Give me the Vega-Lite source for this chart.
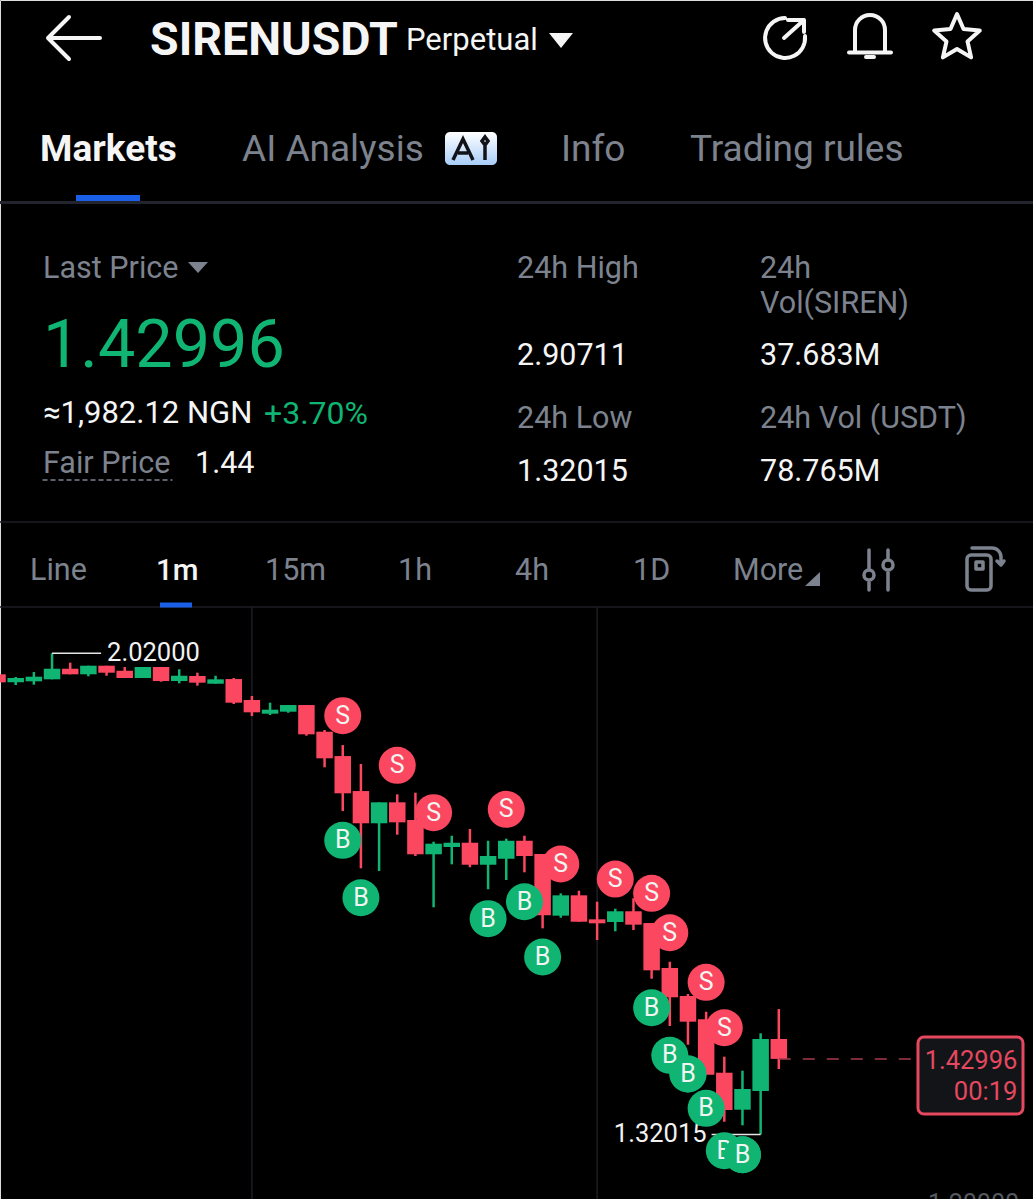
{
  "$schema": "https://vega.github.io/schema/vega-lite/v6.json",
  "width": 1033,
  "height": 1199,
  "padding": 0,
  "autosize": "none",
  "background": "#000000",
  "datasets": {
    "candles": [
      {"i":-1,"open":1.9894,"high":1.9894,"low":1.9777,"close":1.9777},
      {"i":0,"open":1.9777,"high":1.9855,"low":1.9738,"close":1.984},
      {"i":1,"open":1.9792,"high":1.9927,"low":1.9743,"close":1.9859},
      {"i":2,"open":1.9821,"high":2.02,"low":1.9821,"close":1.9975},
      {"i":3,"open":1.9975,"high":2.0063,"low":1.9894,"close":1.9894},
      {"i":4,"open":1.9894,"high":2.0019,"low":1.9865,"close":2.0019},
      {"i":5,"open":2.0019,"high":2.0019,"low":1.9873,"close":1.9917},
      {"i":6,"open":1.9946,"high":2.0,"low":1.984,"close":1.984},
      {"i":7,"open":1.984,"high":2.0,"low":1.984,"close":2.0},
      {"i":8,"open":2.0,"high":2.0,"low":1.9786,"close":1.9796},
      {"i":9,"open":1.9796,"high":1.9967,"low":1.9763,"close":1.9873},
      {"i":10,"open":1.9869,"high":1.9917,"low":1.9728,"close":1.9772},
      {"i":11,"open":1.9757,"high":1.9873,"low":1.9757,"close":1.9821},
      {"i":12,"open":1.9825,"high":1.984,"low":1.9462,"close":1.9481},
      {"i":13,"open":1.952,"high":1.9578,"low":1.9287,"close":1.9341},
      {"i":14,"open":1.9321,"high":1.9481,"low":1.9302,"close":1.9379},
      {"i":15,"open":1.935,"high":1.9447,"low":1.9335,"close":1.9447},
      {"i":16,"open":1.9447,"high":1.9447,"low":1.9001,"close":1.9021},
      {"i":17,"open":1.9059,"high":1.9084,"low":1.8541,"close":1.8672},
      {"i":18,"open":1.8705,"high":1.8865,"low":1.7905,"close":1.8163},
      {"i":19,"open":1.8196,"high":1.8589,"low":1.7072,"close":1.7727},
      {"i":20,"open":1.7727,"high":1.8032,"low":1.7033,"close":1.8032},
      {"i":21,"open":1.8032,"high":1.8148,"low":1.7561,"close":1.7741},
      {"i":22,"open":1.7775,"high":1.8172,"low":1.7251,"close":1.7276},
      {"i":23,"open":1.7276,"high":1.7459,"low":1.6505,"close":1.743},
      {"i":24,"open":1.7382,"high":1.7546,"low":1.713,"close":1.7444},
      {"i":25,"open":1.7444,"high":1.7644,"low":1.7087,"close":1.7124},
      {"i":26,"open":1.7124,"high":1.7473,"low":1.6767,"close":1.7251},
      {"i":27,"open":1.7212,"high":1.7503,"low":1.6902,"close":1.7473},
      {"i":28,"open":1.7473,"high":1.7546,"low":1.7014,"close":1.7251},
      {"i":29,"open":1.728,"high":1.728,"low":1.6199,"close":1.6388},
      {"i":30,"open":1.6383,"high":1.6708,"low":1.6353,"close":1.6679},
      {"i":31,"open":1.6679,"high":1.6746,"low":1.6295,"close":1.6295},
      {"i":32,"open":1.633,"high":1.6586,"low":1.6029,"close":1.6272},
      {"i":33,"open":1.6291,"high":1.6484,"low":1.6156,"close":1.6447},
      {"i":34,"open":1.6447,"high":1.6636,"low":1.6175,"close":1.6252},
      {"i":35,"open":1.6276,"high":1.6276,"low":1.5466,"close":1.5588},
      {"i":36,"open":1.5622,"high":1.5713,"low":1.4778,"close":1.5196},
      {"i":37,"open":1.5215,"high":1.5244,"low":1.4506,"close":1.4841},
      {"i":38,"open":1.4876,"high":1.4986,"low":1.407,"close":1.407},
      {"i":39,"open":1.4099,"high":1.4332,"low":1.3386,"close":1.3556},
      {"i":40,"open":1.3561,"high":1.4128,"low":1.3334,"close":1.3862},
      {"i":41,"open":1.3833,"high":1.4672,"low":1.32015,"close":1.4589},
      {"i":42,"open":1.4589,"high":1.5025,"low":1.4153,"close":1.42996}
    ],
    "signals": [
      {"i":18,"price":1.9292,"side":"S"},
      {"i":21,"price":1.857,"side":"S"},
      {"i":23,"price":1.7881,"side":"S"},
      {"i":27,"price":1.793,"side":"S"},
      {"i":30,"price":1.7135,"side":"S"},
      {"i":33,"price":1.6916,"side":"S"},
      {"i":35,"price":1.6708,"side":"S"},
      {"i":36,"price":1.6135,"side":"S"},
      {"i":38,"price":1.5414,"side":"S"},
      {"i":39,"price":1.4753,"side":"S"},
      {"i":18,"price":1.7479,"side":"B"},
      {"i":19,"price":1.6644,"side":"B"},
      {"i":26,"price":1.6339,"side":"B"},
      {"i":28,"price":1.6586,"side":"B"},
      {"i":29,"price":1.5782,"side":"B"},
      {"i":35,"price":1.5044,"side":"B"},
      {"i":36,"price":1.4352,"side":"B"},
      {"i":37,"price":1.408,"side":"B"},
      {"i":38,"price":1.3581,"side":"B"},
      {"i":39,"price":1.2964,"side":"B"},
      {"i":40,"price":1.2906,"side":"B"}
    ],
    "sessions": [
      {"i":13,"top":2.0873,"bottom":1.2262},
      {"i":32,"top":2.0873,"bottom":1.2262}
    ],
    "extremes": [
      {"i":2,"end":4.7,"price":2.02,"label":"2.02000","kind":"high"},
      {"i":41,"end":38.3,"price":1.32015,"label":"1.32015","kind":"low"}
    ],
    "bottomTick": [{"i":55.22,"price":1.2,"label":"1.20000"}],
    "last": [
      {"i":42,"end":49.66,"price":1.42996,"tagStart":49.66,"tagEnd":55.44,"tagTop":1.4618,"tagBottom":1.3498,"tagText":55.13,"label":"1.42996","countdown":"00:19"}
    ],
    "ui": [
      {"label":"SIRENUSDT","col":1,"line":0,"group":"symbol"},
      {"label":"Perpetual","col":2,"line":0,"group":"contract"},
      {"label":"Markets","col":7,"line":1,"group":"activeTab"},
      {"label":"AI Analysis","col":9,"line":1,"group":"tab"},
      {"label":"Info","col":3,"line":1,"group":"tab"},
      {"label":"Trading rules","col":11,"line":1,"group":"tab"},
      {"label":"Last Price","col":12,"line":3,"group":"muted"},
      {"label":"1.42996","col":12,"line":5,"group":"price"},
      {"label":"≈1,982.12 NGN","col":12,"line":7,"group":"conversion"},
      {"label":"+3.70%","col":14,"line":7,"group":"change"},
      {"label":"Fair Price","col":12,"line":9,"group":"muted"},
      {"label":"1.44","col":15,"line":9,"group":"value"},
      {"label":"24h High","col":17,"line":3,"group":"muted"},
      {"label":"2.90711","col":17,"line":6,"group":"value"},
      {"label":"24h Low","col":17,"line":8,"group":"muted"},
      {"label":"1.32015","col":17,"line":10,"group":"value"},
      {"label":"24h","col":18,"line":3,"group":"muted"},
      {"label":"Vol(SIREN)","col":18,"line":4,"group":"muted"},
      {"label":"37.683M","col":18,"line":6,"group":"value"},
      {"label":"24h Vol (USDT)","col":18,"line":8,"group":"muted"},
      {"label":"78.765M","col":18,"line":10,"group":"value"},
      {"label":"Line","col":19,"line":12,"group":"muted"},
      {"label":"1m","col":20,"line":12,"group":"activeInterval"},
      {"label":"15m","col":22,"line":12,"group":"muted"},
      {"label":"1h","col":23,"line":12,"group":"muted"},
      {"label":"4h","col":24,"line":12,"group":"muted"},
      {"label":"1D","col":25,"line":12,"group":"muted"},
      {"label":"More","col":26,"line":12,"group":"muted"}
    ],
    "dividers": [
      {"col":30,"colEnd":31,"line":14,"group":"heavy"},
      {"col":30,"colEnd":31,"line":15,"group":"thin"},
      {"col":30,"colEnd":31,"line":16,"group":"thin"}
    ],
    "icons": [
      {"icon":"back","col":0,"line":0,"group":"white"},
      {"icon":"share","col":4,"line":0,"group":"white"},
      {"icon":"bell","col":5,"line":0,"group":"white"},
      {"icon":"star","col":6,"line":0,"group":"white"},
      {"icon":"sliders","col":28,"line":12,"group":"grey"},
      {"icon":"phone","col":29,"line":12,"group":"grey"}
    ],
    "fills": [
      {"icon":"perpCaret","col":3,"line":0,"group":"white"},
      {"icon":"lastCaret","col":13,"line":3,"group":"grey"},
      {"icon":"moreCaret","col":27,"line":12,"group":"grey"},
      {"icon":"marketsBar","col":8,"line":2,"group":"blue"},
      {"icon":"minuteBar","col":21,"line":13,"group":"blue"}
    ],
    "badge": [{"col":10,"line":1}],
    "fairUnderline": [{"col":16,"line":11}]
  },
  "resolve": {"scale": {"x": "independent", "y": "independent", "color": "independent"}},
  "layer": [
    {
      "encoding": {
        "x": {"field": "i", "type": "quantitative", "scale": {"domain": [-0.864, 55.99], "nice": false, "zero": false, "padding": 0}, "axis": null}
      },
      "layer": [
        {
          "data": {"name": "sessions"},
          "mark": {"type": "rule", "color": "#1c1e24", "strokeWidth": 1.5},
          "encoding": {
            "y": {"field": "top", "type": "quantitative", "scale": {"domain": [1.2262, 2.9702], "nice": false, "zero": false}, "axis": null},
            "y2": {"field": "bottom"}
          }
        },
        {
          "data": {"name": "candles"},
          "mark": {"type": "rule", "strokeWidth": 2.5},
          "encoding": {
            "y": {
              "field": "high", "type": "quantitative",
              "scale": {"domain": [1.2262, 2.9702], "nice": false, "zero": false},
              "axis": {
                "orient": "right", "values": [1.6, 2.0], "format": ".5f", "title": null,
                "grid": true, "gridColor": "#1c1e24", "gridWidth": 1.5,
                "domain": false, "ticks": false,
                "labelAlign": "right", "labelPadding": -14, "labelOffset": -15,
                "labelColor": "#55585e", "labelFont": "Roboto", "labelFontSize": 25,
                "labelBound": false, "labelFlush": false, "labelOverlap": false
              }
            },
            "y2": {"field": "low"},
            "color": {"condition": {"test": "datum.close >= datum.open", "value": "#10b573"}, "value": "#fb4760"}
          }
        },
        {
          "data": {"name": "bottomTick"},
          "mark": {"type": "text", "align": "right", "baseline": "middle", "dy": -13, "font": "Roboto", "fontSize": 25, "color": "#55585e"},
          "encoding": {
            "y": {"field": "price", "type": "quantitative", "scale": {"domain": [1.2262, 2.9702], "nice": false, "zero": false}, "axis": null},
            "text": {"field": "label"}
          }
        },
        {
          "data": {"name": "candles"},
          "mark": {"type": "bar", "size": 16.5},
          "encoding": {
            "y": {"field": "open", "type": "quantitative", "scale": {"domain": [1.2262, 2.9702], "nice": false, "zero": false}, "axis": null},
            "y2": {"field": "close"},
            "color": {"condition": {"test": "datum.close >= datum.open", "value": "#10b573"}, "value": "#fb4760"}
          }
        },
        {
          "data": {"name": "extremes"},
          "mark": {"type": "rule", "color": "#e6e6e6", "strokeWidth": 1.5},
          "encoding": {
            "x2": {"field": "end"},
            "y": {"field": "price", "type": "quantitative", "scale": {"domain": [1.2262, 2.9702], "nice": false, "zero": false}, "axis": null}
          }
        },
        {
          "data": {"name": "extremes"},
          "transform": [{"filter": "datum.kind == 'high'"}],
          "mark": {"type": "text", "align": "left", "baseline": "middle", "dx": 6, "font": "Roboto", "fontSize": 25.5, "color": "#f2f2f2"},
          "encoding": {
            "x": {"field": "end", "type": "quantitative", "scale": {"domain": [-0.864, 55.99], "nice": false, "zero": false, "padding": 0}, "axis": null},
            "y": {"field": "price", "type": "quantitative", "scale": {"domain": [1.2262, 2.9702], "nice": false, "zero": false}, "axis": null},
            "text": {"field": "label"}
          }
        },
        {
          "data": {"name": "extremes"},
          "transform": [{"filter": "datum.kind == 'low'"}],
          "mark": {"type": "text", "align": "right", "baseline": "middle", "dx": -5, "font": "Roboto", "fontSize": 25.5, "color": "#f2f2f2"},
          "encoding": {
            "x": {"field": "end", "type": "quantitative", "scale": {"domain": [-0.864, 55.99], "nice": false, "zero": false, "padding": 0}, "axis": null},
            "y": {"field": "price", "type": "quantitative", "scale": {"domain": [1.2262, 2.9702], "nice": false, "zero": false}, "axis": null},
            "text": {"field": "label"}
          }
        },
        {
          "data": {"name": "last"},
          "mark": {"type": "rule", "color": "#a83a4c", "strokeWidth": 1.5, "strokeDash": [12, 12]},
          "encoding": {
            "x2": {"field": "end"},
            "y": {"field": "price", "type": "quantitative", "scale": {"domain": [1.2262, 2.9702], "nice": false, "zero": false}, "axis": null}
          }
        },
        {
          "data": {"name": "last"},
          "mark": {"type": "rect", "fill": "#131418", "stroke": "#e5485f", "strokeWidth": 3, "cornerRadius": 6},
          "encoding": {
            "x": {"field": "tagStart", "type": "quantitative", "scale": {"domain": [-0.864, 55.99], "nice": false, "zero": false, "padding": 0}, "axis": null},
            "x2": {"field": "tagEnd"},
            "y": {"field": "tagTop", "type": "quantitative", "scale": {"domain": [1.2262, 2.9702], "nice": false, "zero": false}, "axis": null},
            "y2": {"field": "tagBottom"}
          }
        },
        {
          "data": {"name": "last"},
          "mark": {"type": "text", "align": "right", "baseline": "middle", "dy": 2, "font": "Roboto", "fontSize": 25.5, "color": "#e5485f"},
          "encoding": {
            "x": {"field": "tagText", "type": "quantitative", "scale": {"domain": [-0.864, 55.99], "nice": false, "zero": false, "padding": 0}, "axis": null},
            "y": {"field": "price", "type": "quantitative", "scale": {"domain": [1.2262, 2.9702], "nice": false, "zero": false}, "axis": null},
            "text": {"field": "label"}
          }
        },
        {
          "data": {"name": "last"},
          "mark": {"type": "text", "align": "right", "baseline": "middle", "dy": 33, "font": "Roboto", "fontSize": 25.5, "color": "#e5485f"},
          "encoding": {
            "x": {"field": "tagText", "type": "quantitative", "scale": {"domain": [-0.864, 55.99], "nice": false, "zero": false, "padding": 0}, "axis": null},
            "y": {"field": "price", "type": "quantitative", "scale": {"domain": [1.2262, 2.9702], "nice": false, "zero": false}, "axis": null},
            "text": {"field": "countdown"}
          }
        },
        {
          "data": {"name": "signals"},
          "mark": {"type": "circle", "size": 1369, "opacity": 1},
          "encoding": {
            "y": {"field": "price", "type": "quantitative", "scale": {"domain": [1.2262, 2.9702], "nice": false, "zero": false}, "axis": null},
            "color": {"field": "side", "type": "nominal", "scale": {"domain": ["S", "B"], "range": ["#fb4760", "#10b573"]}, "legend": null}
          }
        },
        {
          "data": {"name": "signals"},
          "mark": {"type": "text", "baseline": "middle", "font": "Roboto", "fontSize": 25, "color": "#f0f5f1"},
          "encoding": {
            "y": {"field": "price", "type": "quantitative", "scale": {"domain": [1.2262, 2.9702], "nice": false, "zero": false}, "axis": null},
            "text": {"field": "side"}
          }
        },
        {
          "data": {"name": "signals"},
          "transform": [{"filter": "datum.side == 'B' && (datum.i == 37 || datum.i == 40)"}],
          "mark": {"type": "circle", "size": 1369, "opacity": 1, "color": "#10b573"},
          "encoding": {
            "y": {"field": "price", "type": "quantitative", "scale": {"domain": [1.2262, 2.9702], "nice": false, "zero": false}, "axis": null}
          }
        },
        {
          "data": {"name": "signals"},
          "transform": [{"filter": "datum.side == 'B' && (datum.i == 37 || datum.i == 40)"}],
          "mark": {"type": "text", "baseline": "middle", "font": "Roboto", "fontSize": 25, "color": "#f0f5f1"},
          "encoding": {
            "y": {"field": "price", "type": "quantitative", "scale": {"domain": [1.2262, 2.9702], "nice": false, "zero": false}, "axis": null},
            "text": {"field": "side"}
          }
        }
      ]
    },
    {
      "encoding": {
        "x": {
          "field": "col", "type": "quantitative", "axis": null,
          "scale": {
            "domain": [0,1,2,3,4,5,6,7,8,9,10,11,12,13,14,15,16,17,18,19,20,21,22,23,24,25,26,27,28,29,30,31],
            "range": [74,150,406,561,785,870,957,40,108,242,471,690,43,198,264,195,107.5,517,760,30,156,176,265,398,515,633,733,813,876,984,0,1033],
            "nice": false, "zero": false
          }
        },
        "y": {
          "field": "line", "type": "quantitative", "axis": null,
          "scale": {
            "domain": [0,1,2,3,4,5,6,7,8,9,10,11,12,13,14,15,16],
            "range": [40,149,198,268,303,345,355,413,418,463,471,480,570,605,202.5,522,607],
            "nice": false, "zero": false
          }
        }
      },
      "resolve": {"scale": {"shape": "independent"}},
      "layer": [
        {
          "data": {"name": "dividers"},
          "transform": [{"filter": "datum.group == 'heavy'"}],
          "mark": {"type": "rule", "color": "#23252e", "strokeWidth": 3},
          "encoding": {"x2": {"field": "colEnd"}}
        },
        {
          "data": {"name": "dividers"},
          "transform": [{"filter": "datum.group == 'thin'"}],
          "mark": {"type": "rule", "color": "#1c1e24", "strokeWidth": 1.5},
          "encoding": {"x2": {"field": "colEnd"}}
        },
        {
          "data": {"name": "ui"},
          "transform": [{"filter": "datum.group == 'symbol'"}],
          "mark": {"type": "text", "align": "left", "baseline": "middle", "dy": 1, "font": "Roboto", "fontWeight": 700, "fontSize": 46.5, "color": "#f5f5f5"},
          "encoding": {"text": {"field": "label"}}
        },
        {
          "data": {"name": "ui"},
          "transform": [{"filter": "datum.group == 'contract'"}],
          "mark": {"type": "text", "align": "left", "baseline": "middle", "dy": 1, "font": "Roboto", "fontSize": 31, "color": "#f5f5f5"},
          "encoding": {"text": {"field": "label"}}
        },
        {
          "data": {"name": "ui"},
          "transform": [{"filter": "datum.group == 'activeTab'"}],
          "mark": {"type": "text", "align": "left", "baseline": "middle", "dy": 1, "font": "Roboto", "fontWeight": 700, "fontSize": 37, "color": "#f5f5f5"},
          "encoding": {"text": {"field": "label"}}
        },
        {
          "data": {"name": "ui"},
          "transform": [{"filter": "datum.group == 'tab'"}],
          "mark": {"type": "text", "align": "left", "baseline": "middle", "dy": 1, "font": "Roboto", "fontSize": 37, "color": "#7d838e"},
          "encoding": {"text": {"field": "label"}}
        },
        {
          "data": {"name": "ui"},
          "transform": [{"filter": "datum.group == 'muted'"}],
          "mark": {"type": "text", "align": "left", "baseline": "middle", "dy": 1, "font": "Roboto", "fontSize": 30.5, "color": "#7d838e"},
          "encoding": {"text": {"field": "label"}}
        },
        {
          "data": {"name": "ui"},
          "transform": [{"filter": "datum.group == 'value'"}],
          "mark": {"type": "text", "align": "left", "baseline": "middle", "dy": 1, "font": "Roboto", "fontSize": 30.5, "color": "#f5f5f5"},
          "encoding": {"text": {"field": "label"}}
        },
        {
          "data": {"name": "ui"},
          "transform": [{"filter": "datum.group == 'conversion'"}],
          "mark": {"type": "text", "align": "left", "baseline": "middle", "dy": 1, "font": "Roboto", "fontSize": 31, "color": "#f5f5f5"},
          "encoding": {"text": {"field": "label"}}
        },
        {
          "data": {"name": "ui"},
          "transform": [{"filter": "datum.group == 'activeInterval'"}],
          "mark": {"type": "text", "align": "left", "baseline": "middle", "dy": 1, "font": "Roboto", "fontWeight": 500, "fontSize": 29.5, "color": "#f5f5f5"},
          "encoding": {"text": {"field": "label"}}
        },
        {
          "data": {"name": "ui"},
          "transform": [{"filter": "datum.group == 'change'"}],
          "mark": {"type": "text", "align": "left", "baseline": "middle", "dy": 1, "font": "Roboto", "fontSize": 32, "color": "#10b573"},
          "encoding": {"text": {"field": "label"}}
        },
        {
          "data": {"name": "ui"},
          "transform": [{"filter": "datum.group == 'price'"}],
          "mark": {"type": "text", "align": "left", "baseline": "middle", "dy": 2, "font": "Roboto", "fontSize": 66.5, "color": "#10b573"},
          "encoding": {"text": {"field": "label"}}
        },
        {
          "data": {"name": "icons"},
          "transform": [{"filter": "datum.group == 'white'"}],
          "mark": {"type": "point", "filled": false, "size": 4, "opacity": 1, "stroke": "#f5f5f5", "strokeWidth": 4, "strokeCap": "round", "strokeJoin": "round"},
          "encoding": {
            "shape": {
              "field": "icon", "type": "nominal", "legend": null,
              "scale": {
                "domain": ["back", "share", "bell", "star"],
                "range": [
                  "M-26,-2H26M-5,-23L-26,-2L-5,19",
                  "M0,-22A20,20 0 1,0 20,-4M-1,-2L19,-20M3,-20H19V-8",
                  "M-15,12V-10A15,15 0 0,1 15,-10V12M-21,12.5H21M-4,17H4",
                  "M0,-26L6.5,-11L22.8,-9.4L10.5,1.4L14.1,17.4L0,9L-14.1,17.4L-10.5,1.4L-22.8,-9.4L-6.5,-11Z"
                ]
              }
            }
          }
        },
        {
          "data": {"name": "icons"},
          "transform": [{"filter": "datum.group == 'grey'"}],
          "mark": {"type": "point", "filled": false, "size": 4, "opacity": 1, "stroke": "#7d838e", "strokeWidth": 3.5, "strokeCap": "round", "strokeJoin": "round"},
          "encoding": {
            "shape": {
              "field": "icon", "type": "nominal", "legend": null,
              "scale": {
                "domain": ["sliders", "phone"],
                "range": [
                  "M-7,-20V0M-7,10V20M12,-20V-10M12,0V20M-2,5A5,5 0 1,1 -12,5A5,5 0 1,1 -2,5M17,-5A5,5 0 1,1 7,-5A5,5 0 1,1 17,-5",
                  "M-13,-15H3A4,4 0 0,1 7,-11V16A4,4 0 0,1 3,20H-13A4,4 0 0,1 -17,16V-11A4,4 0 0,1 -13,-15ZM-8,-8H-1V-1H-8ZM-12,-22H8A9,9 0 0,1 17,-13V-5M13,-9L17,-5L20,-9"
                ]
              }
            }
          }
        },
        {
          "data": {"name": "fills"},
          "mark": {"type": "point", "filled": true, "size": 4, "opacity": 1},
          "encoding": {
            "shape": {
              "field": "icon", "type": "nominal", "legend": null,
              "scale": {
                "domain": ["perpCaret", "lastCaret", "moreCaret", "marketsBar", "minuteBar"],
                "range": [
                  "M-12,-7H12L0,8Z",
                  "M-10,-6H10L0,5Z",
                  "M7,2V16H-8Z",
                  "M-32,-3H32V3H-32Z",
                  "M-16,-2.5H16V2.5H-16Z"
                ]
              }
            },
            "color": {
              "field": "group", "type": "nominal", "legend": null,
              "scale": {"domain": ["white", "grey", "blue"], "range": ["#f5f5f5", "#7d838e", "#1a5fe8"]}
            }
          }
        },
        {
          "data": {"name": "badge"},
          "mark": {
            "type": "point", "filled": true, "size": 4, "opacity": 1,
            "shape": "M-21,-17H21A5,5 0 0,1 26,-12V11A5,5 0 0,1 21,16H-21A5,5 0 0,1 -26,11V-12A5,5 0 0,1 -21,-17Z",
            "fill": {"gradient": "linear", "x1": 0, "y1": 0, "x2": 0, "y2": 1, "stops": [{"offset": 0, "color": "#ffffff"}, {"offset": 1, "color": "#a9cdf8"}]}
          }
        },
        {
          "data": {"name": "badge"},
          "mark": {
            "type": "point", "filled": false, "size": 4, "opacity": 1, "stroke": "#111318", "strokeWidth": 3.5,
            "shape": "M-18,11L-8,-10L2,11M-13,4H-3M14,-3V11M14,-12L17,-8L14,-4L11,-8Z"
          }
        },
        {
          "data": {"name": "fairUnderline"},
          "mark": {
            "type": "point", "filled": false, "size": 4, "opacity": 1, "stroke": "#7d838e", "strokeWidth": 1.5, "strokeDash": [5, 3],
            "shape": "M-65,0H65"
          }
        }
      ]
    }
  ]
}
